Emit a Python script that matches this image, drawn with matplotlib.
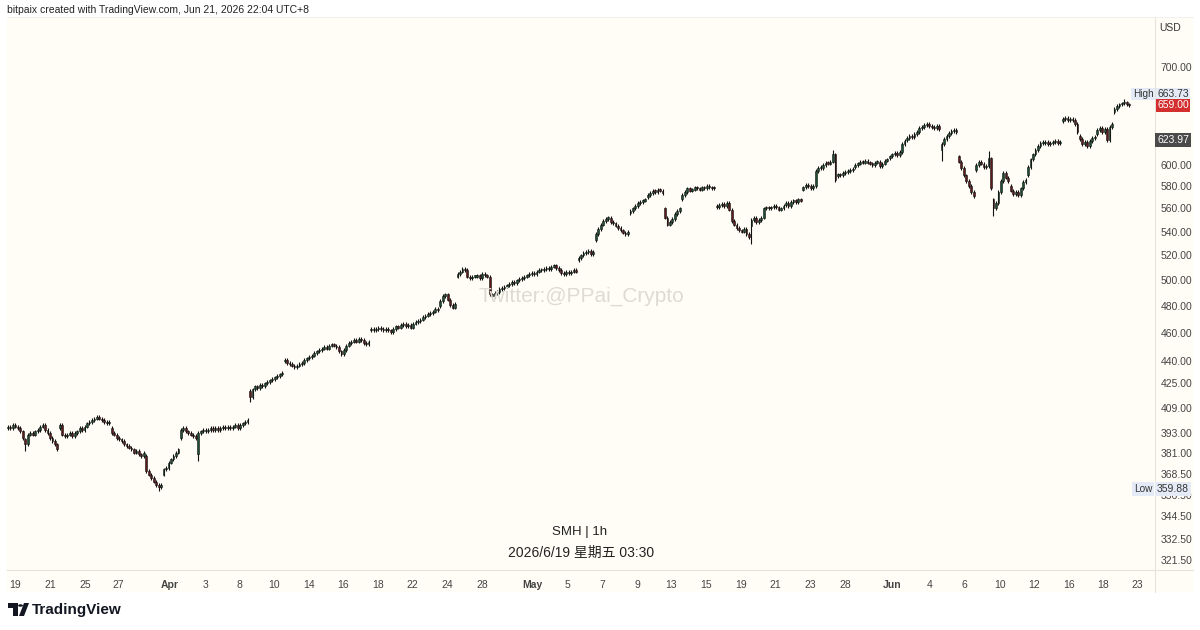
import matplotlib
matplotlib.use("Agg")
import matplotlib.pyplot as plt
from matplotlib.patches import Polygon, Circle, Rectangle
import numpy as np

plt.rcParams['font.family'] = ['Liberation Sans', 'Noto Sans CJK SC', 'DejaVu Sans']

# ---------------- data (hourly bars, 7 per session) ----------------
day_open = [396, 389, 397, 396, 393, 401, 396, 385, 379, 368,
            390, 380, 395, 396, 420, 425, 440, 438, 447, 451,
            454, 462, 463, 467, 470, 480, 503, 503, 489, 496,
            503, 508, 508, 516, 533, 548, 556, 570, 560, 568,
            578, 562, 549, 545, 561, 563, 577, 598, 589, 598,
            601, 606, 624, 637, 614, 608, 595, 568, 580, 590,
            621, 643, 628, 630, 652]

day_closes = [
    [397, 396, 398, 397, 396, 394, 390],
    [386, 392, 393, 392, 394, 395, 397],
    [398, 395, 393, 390, 388, 386, 383],
    [398, 392, 391, 392, 393, 391, 393],
    [394, 396, 395, 397, 399, 400, 401],
    [402, 403, 402, 401, 400, 399, 400],
    [393, 392, 390, 389, 388, 386, 385],
    [384, 383, 381, 382, 380, 379, 381],
    [370, 368, 366, 364, 362, 361, 362],
    [371, 372, 375, 377, 379, 381, 383],
    [395, 396, 394, 393, 392, 391, 390],
    [393, 394, 395, 394, 395, 396, 395],
    [396, 395, 396, 397, 396, 397, 396],
    [397, 398, 396, 398, 399, 400, 401],
    [416, 421, 423, 422, 424, 423, 425],
    [426, 427, 428, 429, 430, 431, 432],
    [441, 439, 438, 437, 436, 437, 438],
    [439, 441, 442, 443, 444, 446, 447],
    [448, 449, 450, 449, 451, 452, 451],
    [450, 447, 445, 448, 451, 453, 454],
    [455, 454, 456, 455, 453, 452, 454],
    [463, 462, 463, 464, 463, 462, 463],
    [462, 461, 463, 465, 464, 466, 467],
    [465, 466, 464, 467, 468, 469, 470],
    [472, 473, 474, 475, 476, 478, 477],
    [484, 488, 489, 485, 481, 479, 482],
    [505, 507, 509, 508, 503, 502, 503],
    [503, 504, 502, 505, 504, 503, 489],
    [488, 490, 491, 493, 494, 495, 496],
    [497, 499, 498, 500, 501, 502, 503],
    [504, 505, 506, 505, 507, 508, 508],
    [509, 510, 509, 511, 512, 510, 508],
    [506, 505, 507, 506, 507, 508, 507],
    [518, 520, 522, 523, 524, 521, 523],
    [538, 542, 546, 549, 551, 552, 548],
    [547, 545, 543, 541, 539, 538, 540],
    [558, 560, 562, 565, 566, 567, 568],
    [572, 574, 576, 575, 577, 576, 574],
    [552, 546, 548, 551, 555, 558, 560],
    [572, 575, 578, 576, 577, 579, 578],
    [577, 579, 578, 580, 579, 578, 579],
    [561, 563, 564, 562, 565, 559, 549],
    [546, 543, 541, 540, 542, 538, 535],
    [550, 552, 548, 550, 552, 560, 561],
    [560, 561, 562, 561, 559, 560, 562],
    [565, 562, 566, 567, 566, 568, 567],
    [579, 581, 580, 578, 580, 594, 597],
    [597, 600, 602, 601, 603, 610, 586],
    [591, 590, 592, 593, 594, 595, 596],
    [600, 601, 603, 602, 604, 602, 601],
    [600, 602, 603, 599, 601, 604, 605],
    [608, 610, 611, 609, 612, 620, 623],
    [626, 628, 627, 630, 632, 636, 637],
    [639, 640, 638, 637, 636, 638, 635],
    [620, 625, 628, 631, 633, 634, 632],
    [603, 597, 590, 585, 580, 575, 571],
    [600, 603, 601, 598, 599, 606, 578],
    [560, 565, 575, 585, 592, 588, 585],
    [576, 573, 575, 572, 578, 584, 586],
    [598, 605, 610, 614, 618, 621, 622],
    [622, 620, 621, 622, 623, 621, 622],
    [645, 646, 644, 645, 644, 640, 632],
    [625, 620, 622, 618, 623, 626, 627],
    [634, 636, 632, 635, 624, 637, 640],
    [655, 658, 660, 661, 662, 660, 659],
]

# notable wick extremes: bar index -> price
wick_high = {452: 663.73, 334: 612, 397: 611}
wick_low = {7: 383, 61: 359.88, 77: 377, 98: 414, 301: 531, 399: 555, 378: 605}

tick_labels = ['19', '21', '25', '27', 'Apr', '3', '8', '10', '14', '16', '18', '22',
               '24', '28', 'May', '5', '7', '9', '13', '15', '19', '21', '23', '28',
               'Jun', '4', '6', '10', '12', '16', '18', '23']
tick_bars = [2.8, 17.0, 31.2, 44.5, 65.6, 79.8, 93.9, 107.7, 121.9, 135.6, 149.8, 163.6,
             177.7, 191.9, 212.5, 226.7, 240.5, 254.7, 268.4, 282.6, 296.8, 310.5, 324.7,
             338.9, 357.9, 373.3, 387.4, 401.6, 415.4, 429.6, 443.3, 457.1]
month_labels = {'Apr', 'May', 'Jun'}

price_ticks = [321.5, 332.5, 344.5, 356.5, 368.5, 381.0, 393.0, 409.0, 425.0, 440.0,
               460.0, 480.0, 500.0, 520.0, 540.0, 560.0, 580.0, 600.0, 700.0]

last_price = 659.00
prev_close = 623.97
high_value = 663.73
low_value = 359.88

# ---------------- build bars ----------------
opens, closes = [], []
for o, cs in zip(day_open, day_closes):
    prev = o
    for c in cs:
        opens.append(prev)
        closes.append(c)
        prev = c
opens = np.array(opens, float)
closes = np.array(closes, float)
n = len(closes)
idx = np.arange(n)
highs = np.maximum(opens, closes)
lows = np.minimum(opens, closes)
for k, v in wick_high.items():
    highs[k] = max(highs[k], v)
for k, v in wick_low.items():
    lows[k] = min(lows[k], v)

# ---------------- figure ----------------
W, H = 1200, 630
fig = plt.figure(figsize=(12, 6.3), dpi=100)
fig.patch.set_facecolor('white')

def fx(px):
    return px / W

def fy(py):
    return 1 - py / H

ax_l, ax_r, ax_t, ax_b = 7, 1155, 17, 570
ax = fig.add_axes([fx(ax_l), fy(ax_b), fx(ax_r - ax_l), (ax_b - ax_t) / H])
bg = '#fffdf6'
ax.set_facecolor(bg)
fig.patches.append(Rectangle((fx(ax_l), fy(592)), fx(1193 - ax_l), (592 - ax_t) / H,
                             transform=fig.transFigure, facecolor=bg, edgecolor='none', zorder=-5))

ax.set_yscale('log')
ax.set_ylim(316.6, 757.5)
ax.set_xlim(-0.4, 464.4)

up_col = '#1f4f33'
dn_col = '#5e1b1b'
pad = 0.0028
wick_hi = highs * (1 + pad)
wick_lo = lows * (1 - pad)
ax.vlines(idx, wick_lo, wick_hi, color='#111111', linewidth=0.8, zorder=2)
body_lo = np.minimum(opens, closes)
body_hi = np.maximum(opens, closes)
body_h = np.maximum(body_hi - body_lo, body_lo * 0.002)
cols = np.where(closes >= opens, up_col, dn_col)
ax.bar(idx, body_h, bottom=body_lo, width=0.72, color=cols, edgecolor='#111111',
       linewidth=0.4, zorder=3)

for s in ax.spines.values():
    s.set_visible(False)
ax.yaxis.tick_right()
ax.set_yticks(price_ticks)
ax.set_yticklabels([f'{v:.2f}' for v in price_ticks])
ax.yaxis.set_minor_locator(matplotlib.ticker.NullLocator())
ax.tick_params(axis='y', length=0, pad=4, labelsize=7.5, labelcolor='#444444')
ax.set_xticks(tick_bars)
ax.set_xticklabels(tick_labels)
for lab in ax.get_xticklabels():
    if lab.get_text() in month_labels:
        lab.set_fontweight('bold')
        lab.set_color('#111111')
ax.tick_params(axis='x', length=0, pad=7, labelsize=7.5, labelcolor='#444444')

fig.add_artist(plt.Line2D([fx(ax_r), fx(ax_r)], [fy(ax_t), fy(592)], color='#e6e3da', lw=0.8))
fig.add_artist(plt.Line2D([fx(ax_l), fx(1193)], [fy(ax_b), fy(ax_b)], color='#e6e3da', lw=0.8))
fig.add_artist(plt.Line2D([fx(ax_l), fx(1193)], [fy(ax_t), fy(ax_t)], color='#eeeeee', lw=0.6))

def ylab(val):
    return ax.transData.transform((0, val))[1] / H

fig.text(fx(1170), fy(28), 'USD', fontsize=7.5, color='#333333', ha='center', va='center')
# High label is nudged up by the chart so it does not collide with the last-price tag
fig.text(fx(1173), fy(94), f'{high_value:.2f}', fontsize=7.5, color='#333333',
         ha='center', va='center', bbox=dict(boxstyle='square,pad=0.12', fc='#e4ebf7', ec='none'))
fig.text(fx(1143), fy(94), 'High', fontsize=7.2, color='#333333',
         ha='center', va='center', bbox=dict(boxstyle='square,pad=0.12', fc='#e4ebf7', ec='none'))
fig.text(fx(1173), ylab(last_price), f'{last_price:.2f}', fontsize=7.5, color='white',
         ha='center', va='center', bbox=dict(boxstyle='square,pad=0.12', fc='#d32f2f', ec='none'))
fig.text(fx(1173), ylab(prev_close), f'{prev_close:.2f}', fontsize=7.5, color='white',
         ha='center', va='center', bbox=dict(boxstyle='square,pad=0.2', fc='#4a4a4a', ec='none'))
fig.text(fx(1173), ylab(low_value), f'{low_value:.2f}', fontsize=7.5, color='#333333',
         ha='center', va='center', bbox=dict(boxstyle='square,pad=0.2', fc='#e4ebf7', ec='none'))
fig.text(fx(1143), ylab(low_value), 'Low', fontsize=7.2, color='#333333',
         ha='center', va='center', bbox=dict(boxstyle='square,pad=0.2', fc='#e4ebf7', ec='none'))

fig.text(fx(7), fy(10), 'bitpaix created with TradingView.com, Jun 21, 2026 22:04 UTC+8',
         fontsize=7.5, color='#222222', ha='left', va='center')
fig.text(fx(581), fy(296), 'Twitter:@PPai_Crypto', fontsize=15,
         color='#dedbd3', ha='center', va='center', zorder=1)
fig.text(fx(580), fy(532), 'SMH | 1h', fontsize=9.5, color='#222222', ha='center', va='center')
fig.text(fx(581), fy(553), '2026/6/19 星期五 03:30', fontsize=10, color='#222222',
         ha='center', va='center')

logo_col = '#131722'
fig.patches.append(Polygon([(fx(8), fy(603)), (fx(18), fy(603)), (fx(18), fy(616)),
                            (fx(13), fy(616)), (fx(13), fy(608)), (fx(8), fy(608))],
                           closed=True, transform=fig.transFigure, fc=logo_col, ec='none'))
fig.patches.append(Circle((fx(20.5), fy(605.5)), 2.4 / W, transform=fig.transFigure,
                          fc=logo_col, ec='none'))
fig.patches.append(Polygon([(fx(24), fy(603)), (fx(29), fy(603)), (fx(24), fy(616)),
                            (fx(19), fy(616))],
                           closed=True, transform=fig.transFigure, fc=logo_col, ec='none'))
fig.text(fx(32), fy(610), 'TradingView', fontsize=11, fontweight='bold', color=logo_col,
         ha='left', va='center')

fig.savefig('out.png', dpi=100, facecolor='white')
